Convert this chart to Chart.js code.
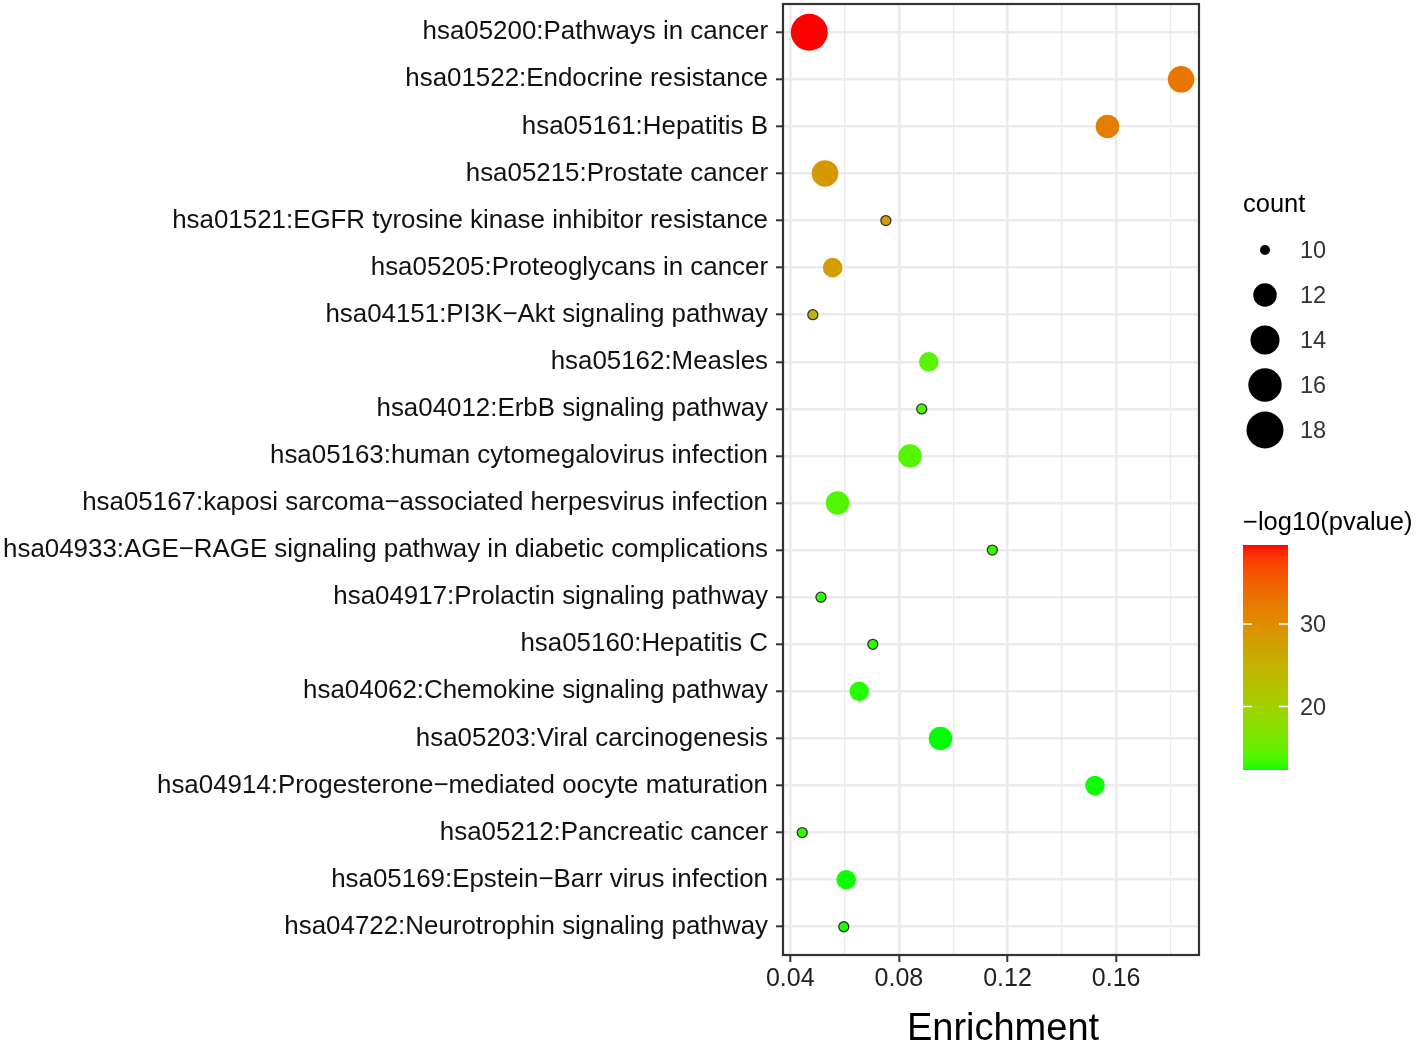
<!DOCTYPE html>
<html>
<head>
<meta charset="utf-8">
<script src="https://cdn.jsdelivr.net/npm/chart.js@4.4.0/dist/chart.umd.min.js"></script>
<style>
  body { margin: 0; background: #fff; }
  #wrap { width: 1418px; height: 1044px; }
</style>
</head>
<body>
<div id="wrap"><canvas id="chartKegg"></canvas></div>
<script>
const pathways = [
  "hsa05200:Pathways in cancer",
  "hsa01522:Endocrine resistance",
  "hsa05161:Hepatitis B",
  "hsa05215:Prostate cancer",
  "hsa01521:EGFR tyrosine kinase inhibitor resistance",
  "hsa05205:Proteoglycans in cancer",
  "hsa04151:PI3K−Akt signaling pathway",
  "hsa05162:Measles",
  "hsa04012:ErbB signaling pathway",
  "hsa05163:human cytomegalovirus infection",
  "hsa05167:kaposi sarcoma−associated herpesvirus infection",
  "hsa04933:AGE−RAGE signaling pathway in diabetic complications",
  "hsa04917:Prolactin signaling pathway",
  "hsa05160:Hepatitis C",
  "hsa04062:Chemokine signaling pathway",
  "hsa05203:Viral carcinogenesis",
  "hsa04914:Progesterone−mediated oocyte maturation",
  "hsa05212:Pancreatic cancer",
  "hsa05169:Epstein−Barr virus infection",
  "hsa04722:Neurotrophin signaling pathway"
];
const enrichment = [0.0470, 0.1839, 0.1568, 0.0528, 0.0752, 0.0556, 0.0483, 0.0910, 0.0884, 0.0841,
                    0.0574, 0.1144, 0.0513, 0.0704, 0.0654, 0.0953, 0.1522, 0.0444, 0.0606, 0.0597];
const counts = [18, 13, 12, 13, 10, 11, 10, 11, 10, 12, 12, 10, 10, 10, 11, 12, 11, 10, 11, 10];
const logp = [39.6, 32.8, 32.0, 28.7, 28.5, 28.0, 24.6, 14.4, 13.6, 14.2,
              14.0, 13.0, 12.9, 12.9, 12.7, 12.3, 12.4, 12.8, 12.4, 12.6];
const xTicks = [0.04, 0.06, 0.08, 0.10, 0.12, 0.14, 0.16, 0.18];
const countBreaks = [10, 12, 14, 16, 18];
const pBreaks = [20, 30];

const FONT = "'Liberation Sans', Arial, sans-serif";
const cMin = Math.min(...counts), cMax = Math.max(...counts);
const pMin = Math.min(...logp), pMax = Math.max(...logp);

// ggplot-like area scale: diameter 10..37 px
function diam(c) {
  return 10 + 27 * Math.sqrt((c - cMin) / (cMax - cMin));
}

// Lab interpolation green -> red, like scale_colour_gradient
function toLin(c) { c /= 255; return c <= 0.04045 ? c / 12.92 : Math.pow((c + 0.055) / 1.055, 2.4); }
function toSrgb(c) { c = c <= 0.0031308 ? 12.92 * c : 1.055 * Math.pow(c, 1 / 2.4) - 0.055; return Math.round(Math.max(0, Math.min(1, c)) * 255); }
function rgb2lab([r, g, b]) {
  r = toLin(r); g = toLin(g); b = toLin(b);
  let x = (0.4124 * r + 0.3576 * g + 0.1805 * b) / 0.95047;
  let y = 0.2126 * r + 0.7152 * g + 0.0722 * b;
  let z = (0.0193 * r + 0.1192 * g + 0.9505 * b) / 1.08883;
  const f = t => t > 0.008856 ? Math.cbrt(t) : 7.787 * t + 16 / 116;
  x = f(x); y = f(y); z = f(z);
  return [116 * y - 16, 500 * (x - y), 200 * (y - z)];
}
function lab2rgb([L, a, bb]) {
  const fy = (L + 16) / 116, fx = fy + a / 500, fz = fy - bb / 200;
  const fi = t => t > 0.206893 ? t * t * t : (t - 16 / 116) / 7.787;
  const x = fi(fx) * 0.95047, y = fi(fy), z = fi(fz) * 1.08883;
  const r = 3.2406 * x - 1.5372 * y - 0.4986 * z;
  const g = -0.9689 * x + 1.8758 * y + 0.0415 * z;
  const b = 0.0557 * x - 0.2040 * y + 1.0570 * z;
  return `rgb(${toSrgb(r)},${toSrgb(g)},${toSrgb(b)})`;
}
const labLow = rgb2lab([0, 255, 0]), labHigh = rgb2lab([255, 0, 0]);
function pColor(v) {
  const t = (v - pMin) / (pMax - pMin);
  return lab2rgb(labLow.map((l, i) => l + (labHigh[i] - l) * t));
}

const points = enrichment.map((x, i) => ({ x, y: i, r: diam(counts[i]) / 2 }));

const legendPlugin = {
  id: "ggLegend",
  afterDatasetsDraw(chart) {
    const { ctx, chartArea: a } = chart;
    ctx.save();
    ctx.strokeStyle = "#333";
    ctx.lineWidth = 2.2;
    ctx.strokeRect(a.left, a.top, a.right - a.left, a.bottom - a.top);
    ctx.restore();
  },
  afterDraw(chart) {
    const { ctx, chartArea: a } = chart;
    ctx.save();
    // x title
    ctx.fillStyle = "#000";
    ctx.font = `38px ${FONT}`;
    ctx.textAlign = "center";
    ctx.textBaseline = "alphabetic";
    ctx.fillText("Enrichment", (a.left + a.right) / 2 + 12, 1040);

    // count legend
    ctx.textAlign = "left";
    ctx.font = `25.5px ${FONT}`;
    ctx.fillText("count", 1243, 212);
    ctx.font = `23.5px ${FONT}`;
    countBreaks.forEach((c, i) => {
      const y = 250 + i * 45;
      ctx.beginPath();
      ctx.arc(1265, y, diam(c) / 2, 0, Math.PI * 2);
      ctx.fillStyle = "#000";
      ctx.fill();
      ctx.fillStyle = "#333";
      ctx.fillText(String(c), 1300, y + 8);
    });

    // colour bar
    ctx.fillStyle = "#000";
    ctx.font = `25.5px ${FONT}`;
    ctx.fillText("−log10(pvalue)", 1243, 530);
    const bx = 1243, bw = 45, top = 545, bot = 770;
    for (let y = top; y < bot; y++) {
      const v = pMax - (y + 0.5 - top) / (bot - top) * (pMax - pMin);
      ctx.fillStyle = pColor(v);
      ctx.fillRect(bx, y, bw, 1);
    }
    ctx.font = `23.5px ${FONT}`;
    pBreaks.forEach(v => {
      const y = bot - (v - pMin) / (pMax - pMin) * (bot - top);
      ctx.strokeStyle = "#fff";
      ctx.lineWidth = 1.5;
      ctx.beginPath();
      ctx.moveTo(bx, y); ctx.lineTo(bx + 9, y);
      ctx.moveTo(bx + bw - 9, y); ctx.lineTo(bx + bw, y);
      ctx.stroke();
      ctx.fillStyle = "#333";
      ctx.fillText(String(v), 1300, y + 8);
    });
    ctx.restore();
  }
};

const ctx = document.getElementById("chartKegg").getContext("2d");
new Chart(ctx, {
  type: "bubble",
  data: {
    datasets: [{
      data: points,
      backgroundColor: c => pColor(logp[c.dataIndex]),
      borderColor: "#333",
      borderWidth: c => counts[c.dataIndex] <= cMin ? 1.3 : 0,
      hoverRadius: 0
    }]
  },
  options: {
    responsive: true,
    maintainAspectRatio: false,
    animation: false,
    layout: { autoPadding: false, padding: { left: 0, right: 219, top: 4, bottom: 0 } },
    plugins: { legend: { display: false }, tooltip: { enabled: false } },
    scales: {
      x: {
        type: "linear",
        min: 0.03732,
        max: 0.1905,
        afterBuildTicks: s => { s.ticks = xTicks.map(v => ({ value: v })); },
        afterFit: s => { s.height = 89; s.paddingLeft = 0; s.paddingRight = 0; },
        border: { display: false },
        grid: {
          color: "#EBEBEB",
          lineWidth: c => (Math.round(c.tick.value * 100) % 4 === 0 ? 2.6 : 1.3),
          tickColor: c => (Math.round(c.tick.value * 100) % 4 === 0 ? "#333" : "rgba(0,0,0,0)"),
          tickWidth: 2,
          tickLength: 7
        },
        ticks: {
          padding: 2,
          color: "#222",
          font: { family: FONT, size: 25 },
          maxRotation: 0,
          autoSkip: false,
          callback: v => (Math.round(v * 100) % 4 === 0 ? v.toFixed(2) : "")
        }
      },
      y: {
        type: "linear",
        reverse: true,
        min: -0.6,
        max: 19.6,
        afterBuildTicks: s => { s.ticks = pathways.map((p, i) => ({ value: i })); },
        afterFit: s => { s.width = 783; s.paddingTop = 0; s.paddingBottom = 0; },
        border: { display: false },
        grid: {
          color: "#EBEBEB",
          lineWidth: 2.6,
          tickColor: "#333",
          tickWidth: 2,
          tickLength: 7
        },
        ticks: {
          padding: 8,
          color: "#111",
          font: { family: FONT, size: 25.9 },
          autoSkip: false,
          callback: v => pathways[v]
        }
      }
    }
  },
  plugins: [legendPlugin]
});
</script>
</body>
</html>
